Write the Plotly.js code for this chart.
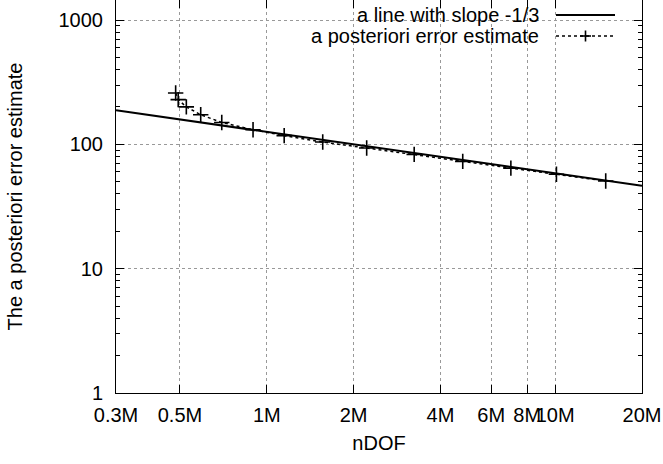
<!DOCTYPE html>
<html>
<head>
<meta charset="utf-8">
<script src="https://cdn.plot.ly/plotly-3.0.1.min.js"></script>
<style>html,body{margin:0;padding:0;background:#fff;}#chart{width:663px;height:464px;}</style>
</head>
<body>
<div id="chart"></div>
<script>
// a posteriori error estimate (nDOF, estimate)
const estNdof = [0.483e6, 0.493e6, 0.526e6, 0.590e6, 0.698e6, 0.896e6, 1.149e6, 1.563e6, 2.220e6, 3.244e6, 4.78e6, 7.02e6, 10.1e6, 14.97e6];
const estValue = [259, 229, 200, 173, 150, 131, 117.5, 104.3, 93.4, 83.1, 73.0, 64.4, 57.4, 50.7];
// reference line with slope -1/3 (end points)
const slopeNdof = [0.3e6, 20e6];
const slopeValue = [188, 46.4];
// axis ticks
const xTickVals = [0.3e6, 0.5e6, 1e6, 2e6, 4e6, 6e6, 8e6, 10e6, 20e6];
const xTickText = ['0.3M', '0.5M', '1M', '2M', '4M', '6M', '8M', '10M', '20M'];
const yTickVals = [1, 10, 100, 1000];
const yTickText = ['1', '10', '100', '1000'];
const legendLabels = ['a line with slope -1/3', 'a posteriori error estimate'];

const FONT = 'Liberation Sans, Arial, sans-serif';
const FS = 20;

const traces = [
  {x: slopeNdof, y: slopeValue, mode: 'lines', line: {color: '#000', width: 2}, showlegend: false, name: legendLabels[0]},
  {x: estNdof, y: estValue, mode: 'lines+markers', line: {color: '#000', width: 1.5, dash: 'dot'},
   marker: {symbol: 'cross-thin', size: 11, line: {color: '#000', width: 1.6}}, showlegend: false, name: legendLabels[1]}
];

const W = 526, H = 393;
const px = v => (v - 116) / W;
const py = v => (393 - v) / H;

const shapes = [
  {type: 'rect', xref: 'paper', yref: 'paper', x0: px(198), x1: px(626), y0: py(47), y1: 1, fillcolor: '#fff', line: {width: 0}, layer: 'between'},
  {type: 'line', xref: 'paper', yref: 'paper', x0: px(556), x1: px(615), y0: py(15), y1: py(15), line: {color: '#000', width: 2}},
  {type: 'line', xref: 'paper', yref: 'paper', x0: px(556), x1: px(615), y0: py(36), y1: py(36), line: {color: '#000', width: 1.5, dash: 'dot'}},
  {type: 'line', xref: 'paper', yref: 'paper', x0: px(580), x1: px(591), y0: py(36), y1: py(36), line: {color: '#000', width: 1.6}},
  {type: 'line', xref: 'paper', yref: 'paper', x0: px(585.5), x1: px(585.5), y0: py(30.5), y1: py(41.5), line: {color: '#000', width: 1.6}}
];

const annotations = [
  {xref: 'paper', yref: 'paper', x: px(541), y: py(15), xanchor: 'right', yanchor: 'middle', text: legendLabels[0], showarrow: false, font: {family: FONT, size: FS, color: '#000'}},
  {xref: 'paper', yref: 'paper', x: px(541), y: py(36), xanchor: 'right', yanchor: 'middle', text: legendLabels[1], showarrow: false, font: {family: FONT, size: FS, color: '#000'}}
];

const layout = {
  width: 663, height: 464,
  margin: {l: 116, r: 21, t: 0, b: 71, pad: 0},
  paper_bgcolor: '#fff', plot_bgcolor: '#fff',
  font: {family: FONT, size: FS, color: '#000'},
  showlegend: false,
  xaxis: {
    type: 'log', range: [Math.log10(3e5), Math.log10(2e7)],
    tickmode: 'array', tickvals: xTickVals, ticktext: xTickText, tickangle: 0,
    ticks: 'inside', ticklen: 8, tickcolor: '#000', tickwidth: 1,
    showgrid: true, gridcolor: '#999', griddash: 'dot', gridwidth: 1,
    showline: true, linecolor: '#000', linewidth: 1, mirror: 'allticks',
    zeroline: false, ticklabelstandoff: 4,
    title: {text: 'nDOF', font: {family: FONT, size: FS}, standoff: 10}
  },
  yaxis: {
    type: 'log', range: [0, 3.161],
    tickmode: 'array', tickvals: yTickVals, ticktext: yTickText,
    ticks: 'inside', ticklen: 8, tickcolor: '#000', tickwidth: 1,
    minor: {ticks: 'inside', ticklen: 4, tickcolor: '#000', dtick: 'D1', showgrid: false},
    showgrid: true, gridcolor: '#999', griddash: 'dot', gridwidth: 1,
    showline: true, linecolor: '#000', linewidth: 1, mirror: 'allticks',
    zeroline: false, ticklabelstandoff: 8,
    title: {text: 'The a posteriori error estimate', font: {family: FONT, size: FS}, standoff: 30}
  },
  shapes: shapes,
  annotations: annotations
};

Plotly.newPlot('chart', traces, layout, {staticPlot: true, displayModeBar: false});
</script>
</body>
</html>
